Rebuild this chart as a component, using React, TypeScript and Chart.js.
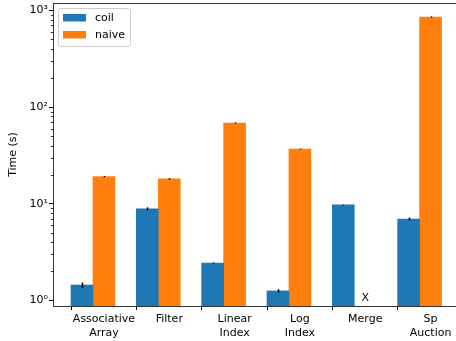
import React, { useEffect, useRef } from 'react';
import { Chart, registerables } from 'chart.js';

Chart.register(...registerables);

const CATEGORIES: (string | string[])[] = [
  ['Associative', 'Array'],
  'Filter',
  ['Linear', 'Index'],
  ['Log', 'Index'],
  'Merge',
  ['Sp', 'Auction'],
];
const SERIES = ['coil', 'naive'];
const COIL = [1.45, 8.86, 2.45, 1.26, 9.75, 6.98];
const NAIVE: (number | null)[] = [19.1, 18.1, 68.5, 36.9, null, 853];
const COIL_ERR = [0.09, 0.35, 0.03, 0.05, 0.08, 0.25];
const NAIVE_ERR: (number | null)[] = [0.25, 0.3, 1.0, 0.4, null, 12];
const Y_TICKS = [
  1, 2, 3, 4, 5, 6, 7, 8, 9,
  10, 20, 30, 40, 50, 60, 70, 80, 90,
  100, 200, 300, 400, 500, 600, 700, 800, 900,
  1000,
];
const Y_TITLE = 'Time (s)';
const MISSING_MARK = 'X';
const MISSING_VALUE_AT = 1;

const COLORS = ['#1f77b4', '#ff7f0e'];
const BAR_W = 0.336;
const FONT = 'DejaVu Sans';
const SUP = ['⁰', '¹', '²', '³', '⁴', '⁵', '⁶', '⁷', '⁸', '⁹'];
const CANVAS_W = 456;
const CANVAS_H = 341;

const isPow10 = (v: number) => Math.abs(Math.log10(v) - Math.round(Math.log10(v))) < 1e-9;

const ERRS = [COIL_ERR, NAIVE_ERR];

const overlay = {
  id: 'overlay',
  afterDatasetsDraw(chart: any) {
    const { ctx, chartArea, scales } = chart;
    const x = scales.x;
    const y = scales.y;
    ctx.save();
    // error bars
    ctx.strokeStyle = '#000';
    ctx.lineWidth = 1.5;
    chart.data.datasets.forEach((ds: any, di: number) => {
      const meta = chart.getDatasetMeta(di);
      const errs = ERRS[di];
      meta.data.forEach((bar: any, i: number) => {
        const pt = ds.data[i];
        const e = errs[i];
        if (!pt || pt.y == null || e == null) return;
        const y1 = y.getPixelForValue(pt.y - e);
        const y2 = y.getPixelForValue(pt.y + e);
        ctx.beginPath();
        ctx.moveTo(Math.round(bar.x) + 0.5, y1);
        ctx.lineTo(Math.round(bar.x) + 0.5, y2);
        ctx.stroke();
      });
    });
    // missing marker
    NAIVE.forEach((v, i) => {
      if (v != null) return;
      ctx.fillStyle = '#000';
      ctx.font = `11px "${FONT}"`;
      ctx.textAlign = 'center';
      ctx.textBaseline = 'alphabetic';
      ctx.fillText(MISSING_MARK, x.getPixelForValue(i), y.getPixelForValue(MISSING_VALUE_AT));
    });
    // minor y ticks
    ctx.strokeStyle = '#000';
    ctx.lineWidth = 0.8;
    y.ticks.forEach((t: any) => {
      if (isPow10(t.value)) return;
      const py = Math.round(y.getPixelForValue(t.value)) + 0.5;
      ctx.beginPath();
      ctx.moveTo(chartArea.left - 2.2, py);
      ctx.lineTo(chartArea.left, py);
      ctx.stroke();
    });
    // legend
    const lx = chartArea.left + 5;
    const ly = chartArea.top + 5;
    const lw = 72;
    const lh = 38;
    ctx.fillStyle = 'rgba(255,255,255,0.8)';
    ctx.strokeStyle = '#cccccc';
    ctx.lineWidth = 1;
    ctx.beginPath();
    (ctx as any).roundRect(lx + 0.5, ly + 0.5, lw, lh, 2.5);
    ctx.fill();
    ctx.stroke();
    chart.data.datasets.forEach((ds: any, di: number) => {
      const ry = ly + 6 + di * 17;
      ctx.fillStyle = ds.backgroundColor;
      ctx.fillRect(lx + 5, ry, 23, 7.5);
      ctx.fillStyle = '#000';
      ctx.font = `11px "${FONT}"`;
      ctx.textAlign = 'left';
      ctx.textBaseline = 'middle';
      ctx.fillText(ds.label, lx + 37, ry + 4);
    });
    ctx.restore();
  },
  afterDraw(chart: any) {
    const { ctx, chartArea } = chart;
    ctx.save();
    // clear anything at the clipped right edge, then draw the top spine
    ctx.fillStyle = '#ffffff';
    ctx.fillRect(chartArea.right - 4, chartArea.top, 4, chartArea.bottom - chartArea.top - 1);
    ctx.strokeStyle = '#333';
    ctx.lineWidth = 1;
    ctx.beginPath();
    ctx.moveTo(chartArea.left, Math.round(chartArea.top) + 0.5);
    ctx.lineTo(chartArea.right, Math.round(chartArea.top) + 0.5);
    ctx.stroke();
    ctx.restore();
  },
};

export default function App() {
  const ref = useRef<HTMLCanvasElement>(null);
  useEffect(() => {
    if (!ref.current) return;
    const tickFont = { family: FONT, size: 11 };
    const chart = new Chart(ref.current, {
      type: 'bar',
      data: {
        datasets: [
          {
            label: SERIES[0],
            data: COIL.map((v, i) => ({ x: i - BAR_W, y: v })),
            backgroundColor: COLORS[0],
          },
          {
            label: SERIES[1],
            data: NAIVE.map((v, i) => ({ x: i, y: v })),
            backgroundColor: COLORS[1],
          },
        ] as any,
      },
      options: {
        animation: false,
        responsive: false,
        devicePixelRatio: 1,
        layout: { padding: { top: 3, right: 0, left: 0, bottom: 0 }, autoPadding: false } as any,
        datasets: {
          bar: { grouped: false, categoryPercentage: 1, barPercentage: 1, borderWidth: 0 } as any,
        },
        plugins: {
          legend: { display: false },
          tooltip: { enabled: false },
        },
        scales: {
          x: {
            type: 'linear',
            min: -0.78,
            max: 5.389,
            offset: false,
            afterBuildTicks: (s: any) => {
              s.ticks = CATEGORIES.map((_, i) => ({ value: i }));
            },
            afterFit: (s: any) => {
              s.height = 35;
              s.paddingLeft = 0;
              s.paddingRight = 0;
            },
            ticks: {
              autoSkip: false,
              maxRotation: 0,
              padding: 3,
              color: '#000',
              font: tickFont,
              callback: (v: any) => CATEGORIES[Math.round(Number(v))] as any,
            },
            grid: { drawOnChartArea: false, tickLength: 4, tickColor: '#000', tickWidth: 1 },
            border: { color: '#333', width: 1 },
          },
          y: {
            type: 'logarithmic',
            min: 0.88,
            max: 1190,
            afterBuildTicks: (s: any) => {
              s.ticks = Y_TICKS.map((v) => ({ value: v, major: isPow10(v) }));
            },
            afterFit: (s: any) => {
              s.width = 53;
              s.paddingTop = 0;
              s.paddingBottom = 0;
            },
            ticks: {
              autoSkip: false,
              padding: 1,
              color: '#000',
              font: tickFont,
              callback: (v: any) => {
                const n = Number(v);
                if (!isPow10(n)) return '';
                const e = Math.round(Math.log10(n));
                return '10' + String(e).split('').map((d) => SUP[Number(d)]).join('');
              },
            },
            grid: {
              drawOnChartArea: false,
              tickLength: 4,
              tickWidth: 1,
              tickColor: (c: any) => (c.tick && isPow10(c.tick.value) ? '#000' : 'rgba(0,0,0,0)'),
            },
            border: { color: '#333', width: 1 },
            title: {
              display: true,
              text: Y_TITLE,
              color: '#000',
              font: { family: FONT, size: 11 },
              padding: { top: 7, bottom: 0 },
            },
          },
        },
      } as any,
      plugins: [overlay],
    });
    return () => chart.destroy();
  }, []);
  return (
    <div style={{ position: 'absolute', left: 0, top: 0, width: 456, height: 341, overflow: 'hidden', background: '#fff' }}>
      <canvas
        ref={ref}
        width={CANVAS_W}
        height={CANVAS_H}
        style={{ display: 'block', width: CANVAS_W, height: CANVAS_H }}
      />
    </div>
  );
}
